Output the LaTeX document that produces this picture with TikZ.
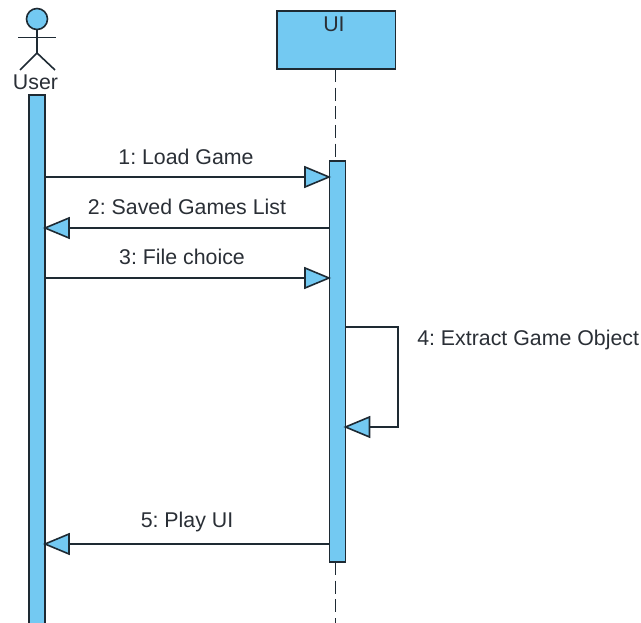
\documentclass[tikz,border=0pt]{standalone}
\usepackage{fontspec}
\setmainfont{Liberation Sans}
\definecolor{fillblue}{HTML}{73C9F2}
\definecolor{linedark}{HTML}{1E2A33}
\definecolor{textdark}{HTML}{2A2F36}
\tikzset{
  x=0.75pt,y=-0.75pt,
  lbl/.style={text=textdark,font=\fontsize{16pt}{18pt}\selectfont\frenchspacing,inner sep=0pt},
  bar/.style={draw=linedark,line width=1.2pt,fill=fillblue},
  msg/.style={draw=linedark,line width=0.9pt},
  tip/.style={draw=linedark,line width=1.2pt,fill=fillblue,line join=miter},
  lifeline/.style={draw=linedark,line width=1.3pt,dash pattern=on 9.8pt off 4.2pt},
  stick/.style={draw=linedark,line width=1.2pt}
}
\newcommand{\tipright}[2]{\draw[tip] (#1-24,#2-10) -- (#1,#2) -- (#1-24,#2+10) -- cycle;}
\newcommand{\tipleft}[2]{\draw[tip] (#1+24,#2-10) -- (#1,#2) -- (#1+24,#2+10) -- cycle;}
\begin{document}
\begin{tikzpicture}
\useasboundingbox[fill=white] (0,0) rectangle (641,623);
% actor
\draw[stick,fill=fillblue] (37,19) circle[radius=10.5];
\draw[stick] (18,37.5) -- (56,37.5);
\draw[stick] (37,29.5) -- (37,53);
\draw[stick] (20,70) -- (37,53) -- (55,70);
\node[lbl] (user) at (35.5,82.5) {User};
% lifelines
\node[draw=linedark,line width=1.2pt,fill=fillblue,minimum width=88.9pt,minimum height=43.5pt,inner sep=0pt] (ui) at (336.25,40) {};
\node[lbl] (uilabel) at (334,24) {UI};
\draw[lifeline] (335.5,69) -- (335.5,161);
\draw[lifeline] (335.5,562) -- (335.5,623);
% activation bars
\begin{scope}
\clip (0,0) rectangle (641,623);
\draw[bar] (29,95) rectangle (45,630);
\end{scope}
\draw[bar] (329.5,161) rectangle (345.5,562);
% messages
\draw[msg] (45,177) -- (305,177);
\tipright{329}{177}
\draw[msg] (69,228) -- (329.5,228);
\tipleft{45}{228}
\draw[msg] (45,278) -- (305,278);
\tipright{329}{278}
\draw[msg] (345.5,327) -- (398,327) -- (398,427) -- (369,427);
\tipleft{345.5}{427}
\draw[msg] (69,544) -- (329.5,544);
\tipleft{45}{544}
% labels
\node[lbl] (m1) at (186,157) {1: Load Game};
\node[lbl] (m2) at (187,207) {2: Saved Games List};
\node[lbl] (m3) at (182,257) {3: File choice};
\node[lbl,anchor=west] (m4) at (417,339.5) {4: Extract Game Object};
\node[lbl] (m5) at (187,522) {5: Play UI};
\end{tikzpicture}
\end{document}
